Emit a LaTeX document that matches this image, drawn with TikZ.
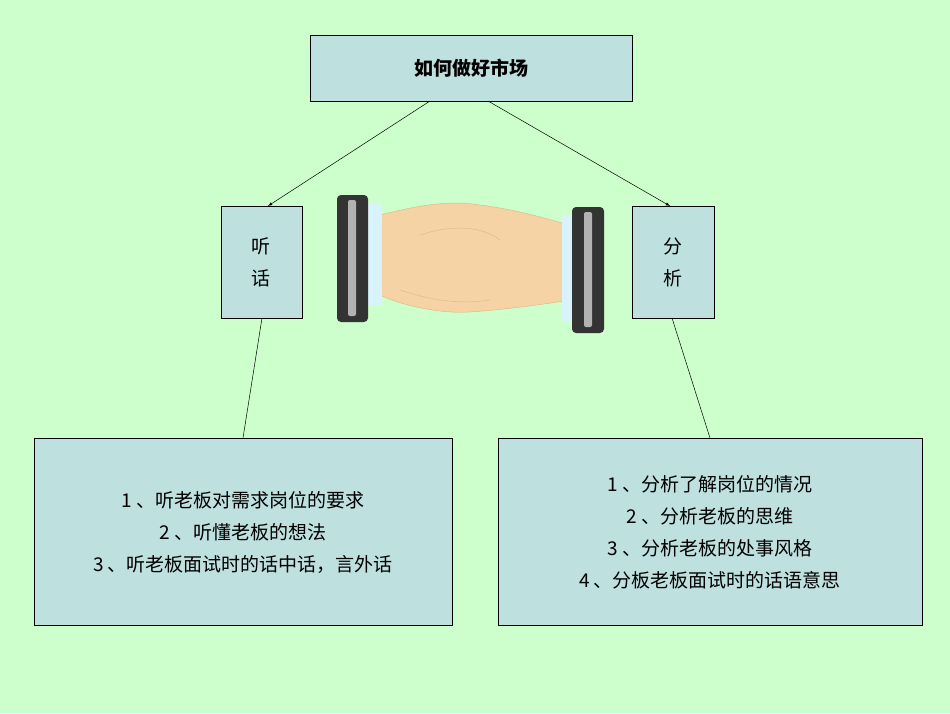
\documentclass[tikz,border=0pt]{standalone}
\usepackage{fontspec}
\setmainfont{Liberation Sans}
\newfontfamily\cjk{Noto Sans CJK SC}
\begin{document}
\begin{tikzpicture}[x=1pt,y=-1pt,
  box/.style={draw=black,fill=boxc,line width=0.6pt},
  txt/.style={font=\cjk\fontsize{19}{32}\selectfont,align=center},
  conn/.style={draw=black,line width=0.5pt}]
\definecolor{bg}{HTML}{CCFFCC}
\definecolor{boxc}{HTML}{BEE0DF}
\definecolor{skin}{HTML}{F6D3A4}
\definecolor{skind}{HTML}{E2B27E}
\definecolor{cuff}{HTML}{333333}
\fill[bg] (0,0) rectangle (950,713);
\useasboundingbox (0,0) rectangle (950,713);
\draw[box] (310,35) rectangle (632,101);
\node[txt,font=\cjk\bfseries\fontsize{19}{24}\selectfont] (top) at (471,68) {如何做好市场};
\draw[box] (221,206) rectangle (302,318);
\node[txt] (l) at (261,262) {听\\话};
\draw[box] (632,206) rectangle (714,318);
\node[txt] (r) at (673,262) {分\\析};
\draw[box] (34,438) rectangle (452,625);
\node[txt] (bl) at (243,532) {1 、听老板对需求岗位的要求\\2 、听懂老板的想法\\3 、听老板面试时的话中话，言外话};
\draw[box] (498,438) rectangle (922,625);
\node[txt] (br) at (710,532) {1 、分析了解岗位的情况\\2 、分析老板的思维\\3 、分析老板的处事风格\\4 、分板老板面试时的话语意思};
\coordinate (t1) at (430,101); \coordinate (t2) at (488,101);
\coordinate (l1) at (268,206); \coordinate (r1) at (670,206);
\draw[conn,-latex] (t1) -- (l1);
\draw[conn,-latex] (t2) -- (r1);
\coordinate (lb) at (262,318); \coordinate (blt) at (243,438);
\coordinate (rb) at (672,318); \coordinate (brt) at (710,438);
\draw[conn] (lb) -- (blt);
\draw[conn] (rb) -- (brt);
% handshake
\fill[skin,draw=skind] (380,215) .. controls (420,205) and (450,200) .. (480,205)
  .. controls (520,210) and (550,220) .. (570,225) -- (570,300)
  .. controls (540,305) and (500,310) .. (470,312)
  .. controls (440,314) and (400,305) .. (380,295) -- cycle;
\draw[skind] (420,235) .. controls (450,225) and (480,225) .. (500,240);
\draw[skind] (400,290) .. controls (430,300) and (460,305) .. (490,300);
\fill[white!85!cyan] (366,203) rectangle (382,305);
\fill[white!85!cyan] (562,215) rectangle (576,322);
\fill[cuff,rounded corners=4pt] (337,195) rectangle (368,322);
\fill[gray!60,rounded corners=2pt] (348,200) rectangle (356,316);
\fill[cuff,rounded corners=4pt] (572,207) rectangle (604,333);
\fill[gray!60,rounded corners=2pt] (584,212) rectangle (592,327);
\end{tikzpicture}
\end{document}
